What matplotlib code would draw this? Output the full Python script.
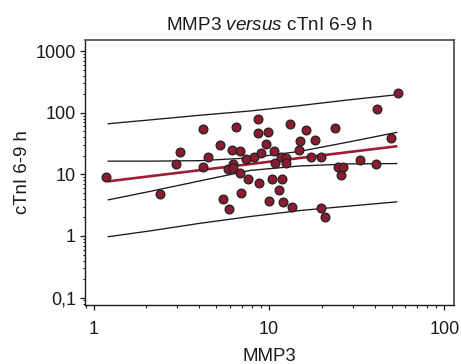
import matplotlib
matplotlib.use("Agg")
import matplotlib.pyplot as plt
from matplotlib.ticker import FixedLocator, FixedFormatter, LogLocator, NullFormatter

plt.rcParams['font.family'] = ['Liberation Sans', 'DejaVu Sans']
plt.rcParams['mathtext.fontset'] = 'custom'
plt.rcParams['mathtext.rm'] = 'Liberation Sans'
plt.rcParams['mathtext.it'] = 'Liberation Sans:italic'

# MMP3 (x) and cTnI 6-9 h (y) per patient
mmp3 = [1.18, 2.40, 2.93, 3.10, 4.19, 4.19, 4.50, 5.25, 5.49, 5.81,
        5.94, 6.14, 6.27, 6.27, 6.47, 6.83, 6.86, 6.92, 7.44, 7.61,
        8.25, 8.60, 8.69, 8.80, 9.03, 9.64, 9.83, 10.04, 10.4, 10.67,
        10.89, 11.4, 11.65, 11.91, 12.07, 12.49, 12.49, 13.18, 13.49, 14.89,
        15.07, 16.32, 17.27, 18.30, 19.75, 19.72, 20.87, 23.95, 24.7, 25.8,
        26.4, 33.0, 41.0, 41.3, 49.5, 54.6]
ctni = [8.97, 4.81, 15.0, 22.8, 54.0, 13.3, 18.95, 29.7, 3.96, 12.1,
        2.74, 25.2, 14.8, 12.9, 59.5, 24.0, 10.4, 4.99, 17.8, 8.33,
        19.0, 79.3, 47.7, 7.31, 22.2, 30.7, 47.9, 3.73, 8.33, 24.3,
        15.1, 5.60, 18.9, 8.33, 3.50, 18.5, 15.5, 65.8, 2.97, 24.9,
        35.5, 52.0, 18.95, 36.7, 18.95, 2.85, 2.03, 57.7, 13.3, 9.96,
        13.3, 17.3, 15.0, 116.0, 39.3, 213.0]

# Regression line and 95% bands (confidence: inner, prediction: outer)
fit_x = [1.2, 54.0]
fit_y = [7.7, 28.7]
band_x = [1.2, 2.1, 4.0, 7.8, 15.0, 29.0, 54.0]
conf_upper = [16.4, 16.4, 16.7, 18.5, 23.7, 33.9, 48.3]
conf_lower = [3.84, 5.3, 7.8, 11.6, 13.7, 14.8, 15.0]
pred_upper = [66.3, 76.7, 91.1, 107.0, 131.0, 163.0, 197.0]
pred_lower = [0.97, 1.21, 1.60, 2.07, 2.59, 3.07, 3.59]

x_ticks = [1, 10, 100]
x_tick_labels = ['1', '10', '100']
y_ticks = [0.1, 1, 10, 100, 1000]
y_tick_labels = ['0,1', '1', '10', '100', '1000']

title_text = r'MMP3 $\it{versus}$ cTnI 6-9 h'
x_label = 'MMP3'
y_label = 'cTnI 6-9 h'

dark_red = '#8c1a30'
line_red = '#9e1d33'
ink = '#1a1a1a'

fig = plt.figure(figsize=(4.61, 3.64), dpi=100)
ax = fig.add_axes([85 / 461, 59 / 364, 369 / 461, 265 / 364])
ax.set_xscale('log')
ax.set_yscale('log')
ax.set_xlim(0.892, 113.6)
ax.set_ylim(0.0758, 1520)

for band in (pred_upper, pred_lower, conf_upper, conf_lower):
    ax.plot(band_x, band, color=ink, lw=0.95, zorder=2, solid_capstyle='butt')
ax.plot(fit_x, fit_y, color=line_red, lw=1.9, zorder=3, solid_capstyle='butt')
ax.scatter(mmp3, ctni, s=40, facecolor=dark_red, edgecolor='#222222',
           linewidth=0.9, zorder=4)

ax.xaxis.set_major_locator(FixedLocator(x_ticks))
ax.xaxis.set_major_formatter(FixedFormatter(x_tick_labels))
ax.xaxis.set_minor_locator(LogLocator(base=10, subs=range(2, 10)))
ax.xaxis.set_minor_formatter(NullFormatter())
ax.yaxis.set_major_locator(FixedLocator(y_ticks))
ax.yaxis.set_major_formatter(FixedFormatter(y_tick_labels))
ax.yaxis.set_minor_locator(LogLocator(base=10, subs=range(2, 10)))
ax.yaxis.set_minor_formatter(NullFormatter())

ax.tick_params(axis='both', which='major', direction='out', length=3.3,
               width=0.9, labelsize=13, colors=ink)
ax.tick_params(axis='both', which='minor', direction='out', length=1.8,
               width=0.8, colors=ink)
ax.tick_params(axis='x', which='major', pad=8.5)
ax.tick_params(axis='y', which='major', pad=3.2)

for side in ('left', 'bottom'):
    ax.spines[side].set_color(ink)
    ax.spines[side].set_linewidth(1.0)
for side in ('top', 'right'):
    ax.spines[side].set_color('#555555')
    ax.spines[side].set_linewidth(1.3)

ax.set_title(title_text, fontsize=13.6, color=ink, pad=7)
ax.set_xlabel(x_label, fontsize=13.4, color=ink, labelpad=7)
ax.set_ylabel(y_label, fontsize=13.4, color=ink, labelpad=3)

fig.savefig('out.png', dpi=100)
